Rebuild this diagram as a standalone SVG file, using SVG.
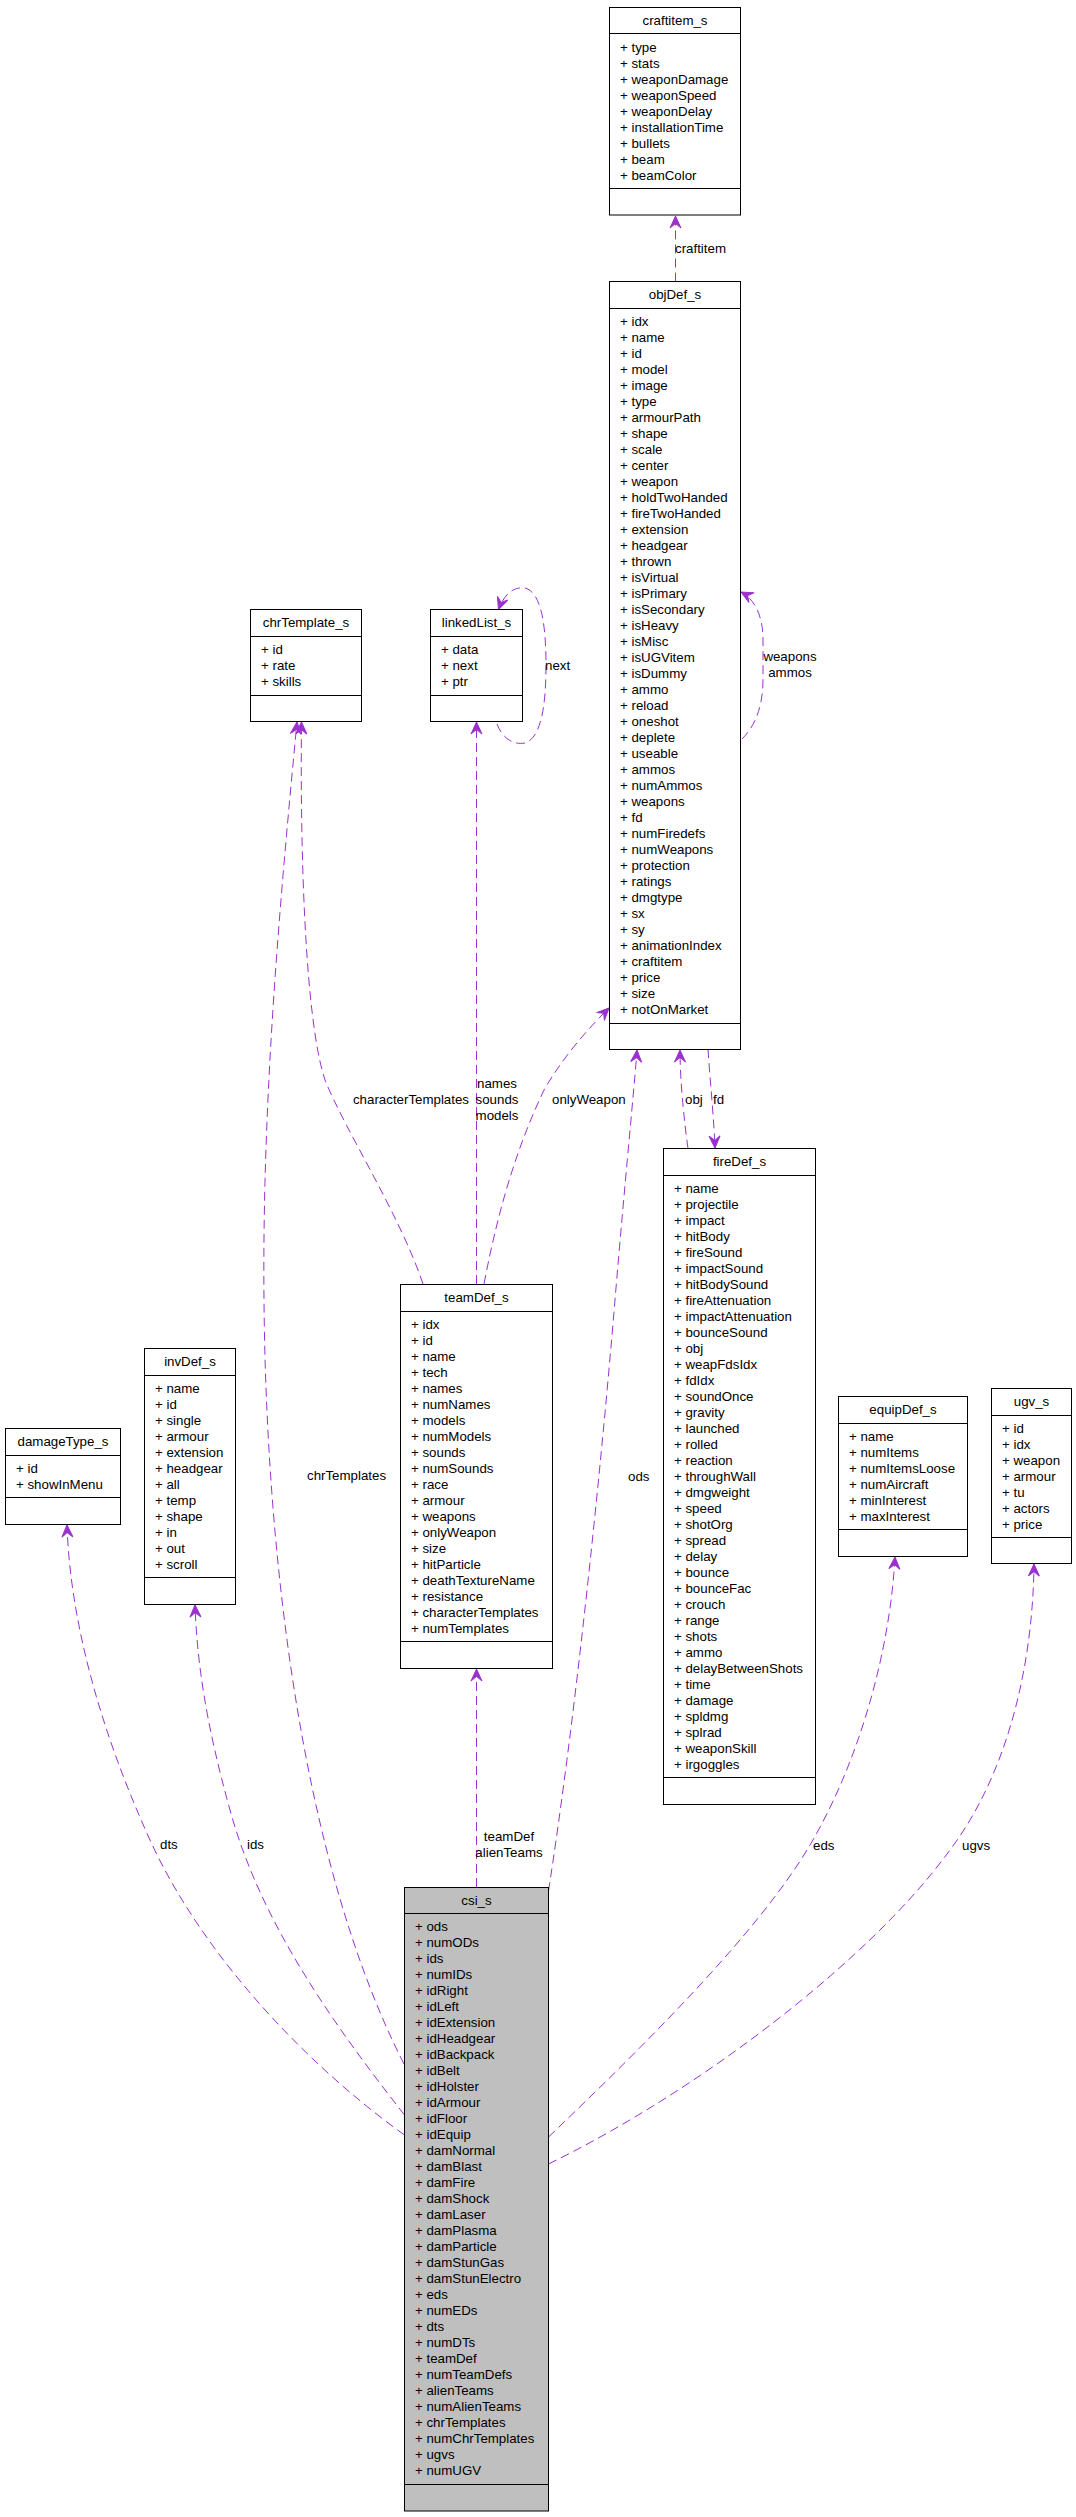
<svg xmlns="http://www.w3.org/2000/svg" width="1076" height="2517" viewBox="0 0 1076 2517">
<style>
.box{fill:#fff;stroke:#000;stroke-width:1}
.main{fill:#bfbfbf;stroke:#000;stroke-width:1}
.sep{stroke:#000;stroke-width:1}
text{font-family:"Liberation Sans",Arial,Helvetica,sans-serif;font-size:13.3px;fill:#000}
.t{text-anchor:middle}
.e{fill:none;stroke:#9a32cd;stroke-width:1;stroke-dasharray:9,5}
.lc{text-anchor:middle}
</style>
<defs>
<marker id="arr" viewBox="-13 -7 14 14" refX="0" refY="0" markerWidth="14" markerHeight="14" orient="auto" markerUnits="userSpaceOnUse">
<path d="M0,0 L-12,-5.5 L-7.5,0 L-12,5.5 Z" fill="#9a32cd" stroke="#9a32cd" stroke-width="1" stroke-dasharray="none"/>
</marker>
</defs>
<rect width="1076" height="2517" fill="#fff"/>

<g id="edges">
<path class="e" marker-end="url(#arr)" d="M675.5,281.5 L675.5,216"/>
<text x="675" y="252.5">craftitem</text>
<path class="e" marker-end="url(#arr)" d="M742,739 C756,725 763,705 763,680 L763,640 C763,618 756,600 741,592"/>
<text class="lc" x="790" y="661">weapons</text>
<text class="lc" x="790" y="677">ammos</text>
<path class="e" marker-end="url(#arr)" d="M688,1148.5 C684,1120 680,1080 680,1050"/>
<text x="685" y="1103.5">obj</text>
<path class="e" marker-end="url(#arr)" d="M708,1049.5 C710,1080 714,1120 715,1148"/>
<text x="713" y="1103.5">fd</text>
<path class="e" marker-end="url(#arr)" d="M484,1284 C500,1200 520,1140 545,1088 C568,1050 592,1025 609,1008"/>
<text x="552" y="1103.5">onlyWeapon</text>
<path class="e" marker-end="url(#arr)" d="M476.5,1284 L476.5,722"/>
<text class="lc" x="497" y="1087.5">names</text>
<text class="lc" x="497" y="1103.5">sounds</text>
<text class="lc" x="497" y="1119.5">models</text>
<path class="e" marker-end="url(#arr)" d="M423,1284 C400,1215 345,1130 325,1080 C305,1020 300,850 301.5,722"/>
<text x="469" y="1103.5" style="text-anchor:end">characterTemplates</text>
<path class="e" marker-end="url(#arr)" d="M497,724 C503,740 515,745 525,743 C540,738 546,710 546,665 C546,620 540,592 525,588 C512,586 503,597 498.5,609.5"/>
<text x="545" y="669.5">next</text>
<path class="e" marker-end="url(#arr)" d="M404,2064 C300,1860 266,1550 264,1300 C262,1100 280,900 297,722"/>
<text x="307" y="1480">chrTemplates</text>
<path class="e" marker-end="url(#arr)" d="M548.5,1891 C575,1720 600,1480 615,1300 C625,1180 635,1080 637,1050"/>
<text x="628" y="1480.5">ods</text>
<path class="e" marker-end="url(#arr)" d="M476.5,1887 L476.5,1669"/>
<text class="lc" x="509" y="1841">teamDef</text>
<text class="lc" x="509" y="1857">alienTeams</text>
<path class="e" marker-end="url(#arr)" d="M548.5,2137 C650,2040 760,1930 810,1845 C860,1760 890,1650 895,1557"/>
<text x="813" y="1849.5">eds</text>
<path class="e" marker-end="url(#arr)" d="M548.5,2164 C700,2090 870,1960 950,1850 C1010,1770 1033,1660 1034,1564"/>
<text x="962" y="1849.5">ugvs</text>
<path class="e" marker-end="url(#arr)" d="M404.5,2135 C300,2060 200,1950 150,1840 C100,1730 70,1620 67,1525"/>
<text x="160" y="1848.5">dts</text>
<path class="e" marker-end="url(#arr)" d="M404.5,2115 C330,2020 260,1920 230,1810 C205,1720 197,1660 195,1605"/>
<text x="247" y="1848.5">ids</text>
</g>

<g id="craftitem_s">
<rect class="box" x="609.5" y="7.5" width="131" height="207.5"/>
<line class="sep" x1="609.5" y1="33.5" x2="740.5" y2="33.5"/>
<line class="sep" x1="609.5" y1="188.5" x2="740.5" y2="188.5"/>
<text class="t" x="675" y="25">craftitem_s</text>
<text x="620" y="51.5">+ type</text>
<text x="620" y="67.5">+ stats</text>
<text x="620" y="83.5">+ weaponDamage</text>
<text x="620" y="99.5">+ weaponSpeed</text>
<text x="620" y="115.5">+ weaponDelay</text>
<text x="620" y="131.5">+ installationTime</text>
<text x="620" y="147.5">+ bullets</text>
<text x="620" y="163.5">+ beam</text>
<text x="620" y="179.5">+ beamColor</text>
</g>

<g id="objDef_s">
<rect class="box" x="609.5" y="281.5" width="131" height="768"/>
<line class="sep" x1="609.5" y1="308.5" x2="740.5" y2="308.5"/>
<line class="sep" x1="609.5" y1="1023.5" x2="740.5" y2="1023.5"/>
<text class="t" x="675" y="299">objDef_s</text>
<text x="620" y="325.5">+ idx</text>
<text x="620" y="341.5">+ name</text>
<text x="620" y="357.5">+ id</text>
<text x="620" y="373.5">+ model</text>
<text x="620" y="389.5">+ image</text>
<text x="620" y="405.5">+ type</text>
<text x="620" y="421.5">+ armourPath</text>
<text x="620" y="437.5">+ shape</text>
<text x="620" y="453.5">+ scale</text>
<text x="620" y="469.5">+ center</text>
<text x="620" y="485.5">+ weapon</text>
<text x="620" y="501.5">+ holdTwoHanded</text>
<text x="620" y="517.5">+ fireTwoHanded</text>
<text x="620" y="533.5">+ extension</text>
<text x="620" y="549.5">+ headgear</text>
<text x="620" y="565.5">+ thrown</text>
<text x="620" y="581.5">+ isVirtual</text>
<text x="620" y="597.5">+ isPrimary</text>
<text x="620" y="613.5">+ isSecondary</text>
<text x="620" y="629.5">+ isHeavy</text>
<text x="620" y="645.5">+ isMisc</text>
<text x="620" y="661.5">+ isUGVitem</text>
<text x="620" y="677.5">+ isDummy</text>
<text x="620" y="693.5">+ ammo</text>
<text x="620" y="709.5">+ reload</text>
<text x="620" y="725.5">+ oneshot</text>
<text x="620" y="741.5">+ deplete</text>
<text x="620" y="757.5">+ useable</text>
<text x="620" y="773.5">+ ammos</text>
<text x="620" y="789.5">+ numAmmos</text>
<text x="620" y="805.5">+ weapons</text>
<text x="620" y="821.5">+ fd</text>
<text x="620" y="837.5">+ numFiredefs</text>
<text x="620" y="853.5">+ numWeapons</text>
<text x="620" y="869.5">+ protection</text>
<text x="620" y="885.5">+ ratings</text>
<text x="620" y="901.5">+ dmgtype</text>
<text x="620" y="917.5">+ sx</text>
<text x="620" y="933.5">+ sy</text>
<text x="620" y="949.5">+ animationIndex</text>
<text x="620" y="965.5">+ craftitem</text>
<text x="620" y="981.5">+ price</text>
<text x="620" y="997.5">+ size</text>
<text x="620" y="1013.5">+ notOnMarket</text>
</g>

<g id="chrTemplate_s">
<rect class="box" x="250.5" y="609.5" width="111" height="112"/>
<line class="sep" x1="250.5" y1="636.5" x2="361.5" y2="636.5"/>
<line class="sep" x1="250.5" y1="695.5" x2="361.5" y2="695.5"/>
<text class="t" x="306" y="627">chrTemplate_s</text>
<text x="261" y="653.5">+ id</text>
<text x="261" y="669.5">+ rate</text>
<text x="261" y="685.5">+ skills</text>
</g>

<g id="linkedList_s">
<rect class="box" x="430.5" y="609.5" width="92" height="112"/>
<line class="sep" x1="430.5" y1="636.5" x2="522.5" y2="636.5"/>
<line class="sep" x1="430.5" y1="695.5" x2="522.5" y2="695.5"/>
<text class="t" x="476.5" y="627">linkedList_s</text>
<text x="441" y="653.5">+ data</text>
<text x="441" y="669.5">+ next</text>
<text x="441" y="685.5">+ ptr</text>
</g>

<g id="teamDef_s">
<rect class="box" x="400.5" y="1284.5" width="152" height="384"/>
<line class="sep" x1="400.5" y1="1311.5" x2="552.5" y2="1311.5"/>
<line class="sep" x1="400.5" y1="1641.5" x2="552.5" y2="1641.5"/>
<text class="t" x="476.5" y="1302">teamDef_s</text>
<text x="411" y="1328.5">+ idx</text>
<text x="411" y="1344.5">+ id</text>
<text x="411" y="1360.5">+ name</text>
<text x="411" y="1376.5">+ tech</text>
<text x="411" y="1392.5">+ names</text>
<text x="411" y="1408.5">+ numNames</text>
<text x="411" y="1424.5">+ models</text>
<text x="411" y="1440.5">+ numModels</text>
<text x="411" y="1456.5">+ sounds</text>
<text x="411" y="1472.5">+ numSounds</text>
<text x="411" y="1488.5">+ race</text>
<text x="411" y="1504.5">+ armour</text>
<text x="411" y="1520.5">+ weapons</text>
<text x="411" y="1536.5">+ onlyWeapon</text>
<text x="411" y="1552.5">+ size</text>
<text x="411" y="1568.5">+ hitParticle</text>
<text x="411" y="1584.5">+ deathTextureName</text>
<text x="411" y="1600.5">+ resistance</text>
<text x="411" y="1616.5">+ characterTemplates</text>
<text x="411" y="1632.5">+ numTemplates</text>
</g>

<g id="fireDef_s">
<rect class="box" x="663.5" y="1148.5" width="152" height="656"/>
<line class="sep" x1="663.5" y1="1175.5" x2="815.5" y2="1175.5"/>
<line class="sep" x1="663.5" y1="1777.5" x2="815.5" y2="1777.5"/>
<text class="t" x="739.5" y="1166">fireDef_s</text>
<text x="674" y="1192.5">+ name</text>
<text x="674" y="1208.5">+ projectile</text>
<text x="674" y="1224.5">+ impact</text>
<text x="674" y="1240.5">+ hitBody</text>
<text x="674" y="1256.5">+ fireSound</text>
<text x="674" y="1272.5">+ impactSound</text>
<text x="674" y="1288.5">+ hitBodySound</text>
<text x="674" y="1304.5">+ fireAttenuation</text>
<text x="674" y="1320.5">+ impactAttenuation</text>
<text x="674" y="1336.5">+ bounceSound</text>
<text x="674" y="1352.5">+ obj</text>
<text x="674" y="1368.5">+ weapFdsIdx</text>
<text x="674" y="1384.5">+ fdIdx</text>
<text x="674" y="1400.5">+ soundOnce</text>
<text x="674" y="1416.5">+ gravity</text>
<text x="674" y="1432.5">+ launched</text>
<text x="674" y="1448.5">+ rolled</text>
<text x="674" y="1464.5">+ reaction</text>
<text x="674" y="1480.5">+ throughWall</text>
<text x="674" y="1496.5">+ dmgweight</text>
<text x="674" y="1512.5">+ speed</text>
<text x="674" y="1528.5">+ shotOrg</text>
<text x="674" y="1544.5">+ spread</text>
<text x="674" y="1560.5">+ delay</text>
<text x="674" y="1576.5">+ bounce</text>
<text x="674" y="1592.5">+ bounceFac</text>
<text x="674" y="1608.5">+ crouch</text>
<text x="674" y="1624.5">+ range</text>
<text x="674" y="1640.5">+ shots</text>
<text x="674" y="1656.5">+ ammo</text>
<text x="674" y="1672.5">+ delayBetweenShots</text>
<text x="674" y="1688.5">+ time</text>
<text x="674" y="1704.5">+ damage</text>
<text x="674" y="1720.5">+ spldmg</text>
<text x="674" y="1736.5">+ splrad</text>
<text x="674" y="1752.5">+ weaponSkill</text>
<text x="674" y="1768.5">+ irgoggles</text>
</g>

<g id="equipDef_s">
<rect class="box" x="838.5" y="1396.5" width="129" height="160"/>
<line class="sep" x1="838.5" y1="1423.5" x2="967.5" y2="1423.5"/>
<line class="sep" x1="838.5" y1="1529.5" x2="967.5" y2="1529.5"/>
<text class="t" x="903" y="1414">equipDef_s</text>
<text x="849" y="1440.5">+ name</text>
<text x="849" y="1456.5">+ numItems</text>
<text x="849" y="1472.5">+ numItemsLoose</text>
<text x="849" y="1488.5">+ numAircraft</text>
<text x="849" y="1504.5">+ minInterest</text>
<text x="849" y="1520.5">+ maxInterest</text>
</g>

<g id="ugv_s">
<rect class="box" x="991.5" y="1388.5" width="80" height="175"/>
<line class="sep" x1="991.5" y1="1415.5" x2="1071.5" y2="1415.5"/>
<line class="sep" x1="991.5" y1="1537.5" x2="1071.5" y2="1537.5"/>
<text class="t" x="1031.5" y="1406">ugv_s</text>
<text x="1002" y="1432.5">+ id</text>
<text x="1002" y="1448.5">+ idx</text>
<text x="1002" y="1464.5">+ weapon</text>
<text x="1002" y="1480.5">+ armour</text>
<text x="1002" y="1496.5">+ tu</text>
<text x="1002" y="1512.5">+ actors</text>
<text x="1002" y="1528.5">+ price</text>
</g>

<g id="damageType_s">
<rect class="box" x="5.5" y="1428.5" width="115" height="96"/>
<line class="sep" x1="5.5" y1="1455.5" x2="120.5" y2="1455.5"/>
<line class="sep" x1="5.5" y1="1497.5" x2="120.5" y2="1497.5"/>
<text class="t" x="63" y="1446">damageType_s</text>
<text x="16" y="1472.5">+ id</text>
<text x="16" y="1488.5">+ showInMenu</text>
</g>

<g id="invDef_s">
<rect class="box" x="144.5" y="1348.5" width="91" height="256"/>
<line class="sep" x1="144.5" y1="1375.5" x2="235.5" y2="1375.5"/>
<line class="sep" x1="144.5" y1="1577.5" x2="235.5" y2="1577.5"/>
<text class="t" x="190" y="1366">invDef_s</text>
<text x="155" y="1392.5">+ name</text>
<text x="155" y="1408.5">+ id</text>
<text x="155" y="1424.5">+ single</text>
<text x="155" y="1440.5">+ armour</text>
<text x="155" y="1456.5">+ extension</text>
<text x="155" y="1472.5">+ headgear</text>
<text x="155" y="1488.5">+ all</text>
<text x="155" y="1504.5">+ temp</text>
<text x="155" y="1520.5">+ shape</text>
<text x="155" y="1536.5">+ in</text>
<text x="155" y="1552.5">+ out</text>
<text x="155" y="1568.5">+ scroll</text>
</g>

<g id="csi_s">
<rect class="main" x="404.5" y="1887.5" width="144" height="623.5"/>
<line class="sep" x1="404.5" y1="1913.5" x2="548.5" y2="1913.5"/>
<line class="sep" x1="404.5" y1="2484.5" x2="548.5" y2="2484.5"/>
<text class="t" x="476.5" y="1905">csi_s</text>
<text x="415" y="1931">+ ods</text>
<text x="415" y="1947">+ numODs</text>
<text x="415" y="1963">+ ids</text>
<text x="415" y="1979">+ numIDs</text>
<text x="415" y="1995">+ idRight</text>
<text x="415" y="2011">+ idLeft</text>
<text x="415" y="2027">+ idExtension</text>
<text x="415" y="2043">+ idHeadgear</text>
<text x="415" y="2059">+ idBackpack</text>
<text x="415" y="2075">+ idBelt</text>
<text x="415" y="2091">+ idHolster</text>
<text x="415" y="2107">+ idArmour</text>
<text x="415" y="2123">+ idFloor</text>
<text x="415" y="2139">+ idEquip</text>
<text x="415" y="2155">+ damNormal</text>
<text x="415" y="2171">+ damBlast</text>
<text x="415" y="2187">+ damFire</text>
<text x="415" y="2203">+ damShock</text>
<text x="415" y="2219">+ damLaser</text>
<text x="415" y="2235">+ damPlasma</text>
<text x="415" y="2251">+ damParticle</text>
<text x="415" y="2267">+ damStunGas</text>
<text x="415" y="2283">+ damStunElectro</text>
<text x="415" y="2299">+ eds</text>
<text x="415" y="2315">+ numEDs</text>
<text x="415" y="2331">+ dts</text>
<text x="415" y="2347">+ numDTs</text>
<text x="415" y="2363">+ teamDef</text>
<text x="415" y="2379">+ numTeamDefs</text>
<text x="415" y="2395">+ alienTeams</text>
<text x="415" y="2411">+ numAlienTeams</text>
<text x="415" y="2427">+ chrTemplates</text>
<text x="415" y="2443">+ numChrTemplates</text>
<text x="415" y="2459">+ ugvs</text>
<text x="415" y="2475">+ numUGV</text>
</g>
</svg>
